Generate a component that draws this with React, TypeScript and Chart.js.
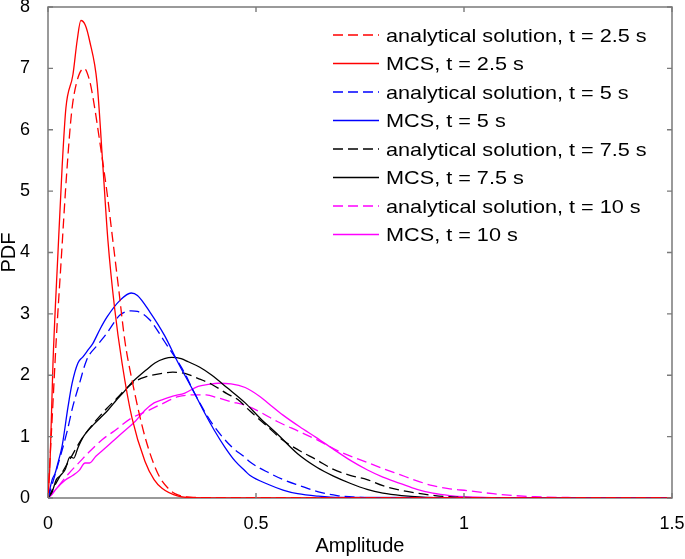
import React, { useEffect, useRef } from "react";
import { Chart, registerables } from "chart.js";

Chart.register(...registerables);

// ---- data ----
const xTicks = [0, 0.5, 1, 1.5];
const yTicks = [0, 1, 2, 3, 4, 5, 6, 7, 8];

const redAnaX = [0, 0.01, 0.02, 0.031, 0.045, 0.057, 0.07, 0.087, 0.1, 0.108, 0.125, 0.142, 0.154, 0.17, 0.185, 0.202, 0.233, 0.264, 0.29, 0.305, 0.35, 0.5, 1.5];
const redAnaY = [0, 1.3, 2.6, 3.8, 5.3, 6.3, 6.8, 7.0, 6.8, 6.53, 5.78, 4.97, 4.3, 3.4, 2.55, 1.92, 1.0, 0.4, 0.15, 0.07, 0.01, 0, 0];

const redMcsX = [0, 0.005, 0.012, 0.024, 0.034, 0.043, 0.06, 0.07, 0.079, 0.09, 0.1, 0.118, 0.132, 0.144, 0.16, 0.178, 0.202, 0.233, 0.255, 0.274, 0.313, 0.35, 0.5, 1.5];
const redMcsY = [0, 0.6, 2.2, 4.0, 5.4, 6.35, 6.9, 7.45, 7.78, 7.7, 7.45, 6.76, 5.4, 4.2, 3.1, 2.2, 1.3, 0.6, 0.3, 0.16, 0.03, 0.005, 0, 0];

const blueAnaX = [0, 0.02, 0.045, 0.06, 0.075, 0.093, 0.12, 0.142, 0.173, 0.2, 0.215, 0.245, 0.28, 0.329, 0.349, 0.394, 0.442, 0.474, 0.485, 0.534, 0.565, 0.606, 0.65, 0.695, 0.75, 0.8, 1.5];
const blueAnaY = [0, 0.45, 1.06, 1.5, 1.85, 2.25, 2.5, 2.69, 2.98, 3.05, 3.04, 2.9, 2.55, 2.03, 1.75, 1.22, 0.83, 0.66, 0.59, 0.4, 0.3, 0.2, 0.1, 0.04, 0.01, 0, 0];

const blueMcsX = [0, 0.01, 0.017, 0.025, 0.034, 0.048, 0.058, 0.072, 0.084, 0.095, 0.108, 0.125, 0.142, 0.173, 0.2, 0.215, 0.245, 0.28, 0.313, 0.345, 0.377, 0.4, 0.425, 0.45, 0.474, 0.485, 0.53, 0.565, 0.6, 0.65, 0.7, 1.5];
const blueMcsY = [0, 0.3, 0.4, 0.6, 0.85, 1.48, 1.87, 2.2, 2.3, 2.4, 2.52, 2.75, 2.95, 3.22, 3.34, 3.3, 3.03, 2.65, 2.2, 1.8, 1.38, 1.1, 0.83, 0.6, 0.44, 0.37, 0.22, 0.13, 0.07, 0.03, 0.01, 0];

const blackAnaX = [0, 0.02, 0.05, 0.08, 0.11, 0.14, 0.165, 0.192, 0.215, 0.233, 0.274, 0.3, 0.329, 0.36, 0.394, 0.43, 0.457, 0.485, 0.525, 0.565, 0.605, 0.646, 0.685, 0.726, 0.767, 0.805, 0.846, 0.887, 0.93, 0.98, 1.05, 1.1, 1.5];
const blackAnaY = [0, 0.25, 0.6, 0.95, 1.22, 1.45, 1.62, 1.81, 1.92, 1.97, 2.03, 2.05, 2.03, 1.95, 1.85, 1.7, 1.6, 1.42, 1.18, 0.94, 0.77, 0.62, 0.47, 0.37, 0.3, 0.2, 0.13, 0.08, 0.04, 0.015, 0.003, 0, 0];

const blackMcsX = [0, 0.01, 0.02, 0.029, 0.041, 0.053, 0.062, 0.072, 0.085, 0.096, 0.11, 0.125, 0.144, 0.165, 0.185, 0.2, 0.216, 0.235, 0.257, 0.28, 0.298, 0.32, 0.337, 0.365, 0.394, 0.43, 0.474, 0.51, 0.55, 0.6, 0.646, 0.685, 0.726, 0.767, 0.805, 0.85, 0.9, 0.95, 1.0, 1.5];
const blackMcsY = [0, 0.1, 0.3, 0.36, 0.46, 0.67, 0.65, 0.82, 1.0, 1.1, 1.2, 1.3, 1.43, 1.6, 1.75, 1.87, 1.97, 2.08, 2.2, 2.27, 2.29, 2.27, 2.22, 2.13, 2.0, 1.8, 1.55, 1.3, 1.05, 0.72, 0.5, 0.36, 0.24, 0.14, 0.08, 0.04, 0.015, 0.005, 0, 0];

const magAnaX = [0, 0.02, 0.05, 0.075, 0.096, 0.13, 0.161, 0.2, 0.233, 0.27, 0.313, 0.353, 0.38, 0.409, 0.44, 0.474, 0.51, 0.55, 0.605, 0.646, 0.7, 0.767, 0.805, 0.846, 0.887, 0.925, 0.966, 1.007, 1.07, 1.12, 1.17, 1.25, 1.35, 1.5];
const magAnaY = [0, 0.15, 0.4, 0.58, 0.73, 0.95, 1.1, 1.3, 1.4, 1.52, 1.65, 1.68, 1.68, 1.63, 1.57, 1.51, 1.4, 1.25, 1.08, 0.95, 0.76, 0.58, 0.48, 0.38, 0.28, 0.2, 0.15, 0.12, 0.07, 0.04, 0.02, 0.008, 0.002, 0];

const magMcsX = [0, 0.01, 0.02, 0.041, 0.06, 0.075, 0.089, 0.1, 0.115, 0.137, 0.16, 0.185, 0.21, 0.233, 0.255, 0.274, 0.3, 0.329, 0.361, 0.385, 0.409, 0.44, 0.474, 0.51, 0.53, 0.565, 0.605, 0.646, 0.685, 0.73, 0.767, 0.805, 0.846, 0.887, 0.925, 0.966, 1.0, 1.05, 1.1, 1.5];
const magMcsY = [0, 0.06, 0.15, 0.29, 0.37, 0.45, 0.57, 0.57, 0.68, 0.81, 0.95, 1.1, 1.25, 1.43, 1.55, 1.6, 1.66, 1.71, 1.82, 1.85, 1.87, 1.86, 1.8, 1.65, 1.54, 1.35, 1.16, 0.98, 0.8, 0.6, 0.46, 0.34, 0.24, 0.14, 0.08, 0.04, 0.02, 0.01, 0, 0];

const seriesLabels = [
  "analytical solution, t = 2.5 s",
  "MCS, t = 2.5 s",
  "analytical solution, t = 5 s",
  "MCS, t = 5 s",
  "analytical solution, t = 7.5 s",
  "MCS, t = 7.5 s",
  "analytical solution, t = 10 s",
  "MCS, t = 10 s",
];
const seriesX = [redAnaX, redMcsX, blueAnaX, blueMcsX, blackAnaX, blackMcsX, magAnaX, magMcsX];
const seriesY = [redAnaY, redMcsY, blueAnaY, blueMcsY, blackAnaY, blackMcsY, magAnaY, magMcsY];
const seriesColors = ["#ff0000", "#ff0000", "#0000ff", "#0000ff", "#000000", "#000000", "#ff00ff", "#ff00ff"];
const seriesDashed = [true, false, true, false, true, false, true, false];

const FONT = "'Liberation Sans', Arial, Helvetica, sans-serif";
const DASH = [10, 5];
const AXIS_GRAY = "#7a7a7a";

const overlayPlugin = {
  id: "insideLegendAndTicks",
  afterDraw(chart: any) {
    const { ctx, scales } = chart;
    const sx = scales.x;
    const sy = scales.y;
    const left = sx.getPixelForValue(xTicks[0]);
    const right = sx.getPixelForValue(xTicks[xTicks.length - 1]);
    const bottom = sy.getPixelForValue(yTicks[0]);
    const top = sy.getPixelForValue(yTicks[yTicks.length - 1]);

    // inward tick marks on all four sides
    ctx.save();
    ctx.setLineDash([]);
    ctx.strokeStyle = AXIS_GRAY;
    ctx.lineWidth = 1.4;
    ctx.beginPath();
    const L = 5;
    xTicks.forEach((v) => {
      const x = sx.getPixelForValue(v);
      ctx.moveTo(x, bottom);
      ctx.lineTo(x, bottom - L);
      ctx.moveTo(x, top);
      ctx.lineTo(x, top + L);
    });
    yTicks.forEach((v) => {
      const y = sy.getPixelForValue(v);
      ctx.moveTo(left, y);
      ctx.lineTo(left + L, y);
      ctx.moveTo(right, y);
      ctx.lineTo(right - L, y);
    });
    ctx.stroke();
    ctx.restore();

    // legend inside the axes (data series only)
    const x0 = 333, x1 = 379, tx = 386, y0 = 35, dy = 28.5;
    chart.data.datasets
      .filter((ds: any) => !ds.isFrame)
      .forEach((ds: any, i: number) => {
        const y = y0 + i * dy;
        ctx.save();
        ctx.strokeStyle = ds.borderColor;
        ctx.lineWidth = 1.3;
        ctx.setLineDash(ds.borderDash || []);
        ctx.beginPath();
        ctx.moveTo(x0, y);
        ctx.lineTo(x1, y);
        ctx.stroke();
        ctx.restore();
        ctx.save();
        ctx.fillStyle = "#000";
        ctx.font = `19px ${FONT}`;
        ctx.textBaseline = "alphabetic";
        ctx.textAlign = "left";
        ctx.translate(tx, y + 6.8);
        ctx.scale(1.14, 1);
        ctx.fillText(ds.label, 0, 0);
        ctx.restore();
      });
  },
};

export default function App() {
  const ref = useRef<HTMLCanvasElement | null>(null);
  useEffect(() => {
    document.body.style.margin = "0";
    const canvas = ref.current;
    if (!canvas) return;
    const xMin = xTicks[0];
    const xMax = xTicks[xTicks.length - 1];
    const yMin = yTicks[0];
    const yMax = yTicks[yTicks.length - 1];
    const frameDataset = {
      label: "axes box",
      isFrame: true,
      data: [
        { x: xMin, y: yMin },
        { x: xMax, y: yMin },
        { x: xMax, y: yMax },
        { x: xMin, y: yMax },
        { x: xMin, y: yMin },
      ],
      borderColor: AXIS_GRAY,
      backgroundColor: AXIS_GRAY,
      borderWidth: 1.5,
      pointRadius: 0,
      fill: false,
      tension: 0,
      clip: false as const,
    };
    const datasets: any[] = seriesLabels.map((label, i) => ({
      label,
      data: seriesX[i].map((x, j) => ({ x, y: seriesY[i][j] })),
      borderColor: seriesColors[i],
      backgroundColor: seriesColors[i],
      borderWidth: 1.3,
      borderDash: seriesDashed[i] ? DASH : [],
      pointRadius: 0,
      fill: false,
      cubicInterpolationMode: "monotone" as const,
    }));
    datasets.push(frameDataset);
    const chart = new Chart(canvas, {
      type: "line",
      data: { datasets },
      plugins: [overlayPlugin],
      options: {
        animation: false,
        responsive: false,
        maintainAspectRatio: false,
        layout: { padding: { left: 0, top: 7, right: 13, bottom: 0 } },
        plugins: { legend: { display: false }, tooltip: { enabled: false } },
        scales: {
          x: {
            type: "linear",
            position: "bottom",
            min: 0,
            max: 1.5,
            grid: { display: false },
            border: { display: false },
            afterBuildTicks: (s: any) => {
              s.ticks = xTicks.map((v) => ({ value: v }));
            },
            afterFit: (s: any) => {
              s.height = 61;
              s.paddingLeft = 0;
              s.paddingRight = 0;
            },
            ticks: {
              padding: 7,
              color: "#000",
              font: { family: FONT, size: 18 },
              callback: (v: any) => String(v),
              maxRotation: 0,
              autoSkip: false,
            },
            title: {
              display: true,
              text: "Amplitude",
              color: "#000",
              font: { family: FONT, size: 20, lineHeight: 1.3 },
              padding: 0,
            },
          },
          y: {
            type: "linear",
            position: "left",
            min: 0,
            max: 8,
            grid: { display: false },
            border: { display: false },
            afterBuildTicks: (s: any) => {
              s.ticks = yTicks.map((v) => ({ value: v }));
            },
            afterFit: (s: any) => {
              s.width = 48;
              s.paddingTop = 0;
              s.paddingBottom = 0;
            },
            ticks: {
              padding: 10,
              color: "#000",
              font: { family: FONT, size: 18 },
              callback: (v: any) => String(v),
              autoSkip: false,
            },
            title: {
              display: true,
              text: "PDF",
              color: "#000",
              font: { family: FONT, size: 20, lineHeight: 0.9 },
              padding: 0,
            },
          },
        },
      },
    });
    return () => chart.destroy();
  }, []);
  return (
    <div style={{ width: 685, height: 559 }}>
      <canvas ref={ref} width={685} height={559} />
    </div>
  );
}
